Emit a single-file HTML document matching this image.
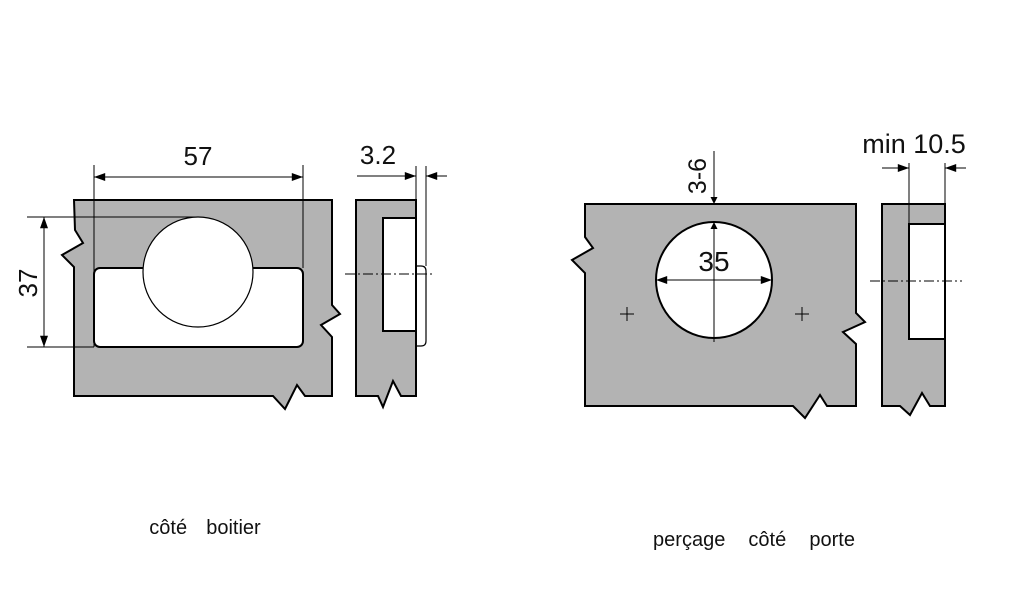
<!DOCTYPE html>
<html><head><meta charset="utf-8"><style>
html,body{margin:0;padding:0;background:#fff;}
svg{display:block;}
text{font-family:"Liberation Sans",Arial,sans-serif;fill:#111;}
</style></head><body>
<svg width="1014" height="600" viewBox="0 0 1014 600" xmlns="http://www.w3.org/2000/svg">
<defs>
<marker id="a" viewBox="0 0 10 10" refX="10" refY="5" markerWidth="12" markerHeight="7" orient="auto-start-reverse" markerUnits="userSpaceOnUse"><path d="M0,0 L10,5 L0,10 z" fill="#000"/></marker>
<marker id="b" viewBox="0 0 14 10" refX="14" refY="5" markerWidth="15" markerHeight="8" orient="auto-start-reverse" markerUnits="userSpaceOnUse"><path d="M0,0 L14,5 L0,10 z" fill="#000"/></marker>
</defs>
<g stroke="#000" stroke-width="2" stroke-linejoin="miter">
<path d="M74,200 L332,200 L332,305 L340,314 L321,325 L332,337 L332,396 L305,396 L297,385 L285,409 L273,396 L74,396 L74,267 L62,255 L83,243 L75,230 L74,200 Z" fill="#b3b3b3"/>
<rect x="94" y="268" width="209" height="79" rx="6" fill="#fff"/>
<circle cx="198" cy="272" r="55" fill="#fff" stroke-width="1.2"/>
<path d="M148,268 L248,268" stroke="#fff" stroke-width="3"/>
<path d="M356,200 L416,200 L416,396 L401,396 L393,381 L383,407 L378,396 L356,396 Z" fill="#b3b3b3"/>
<rect x="383" y="218" width="33" height="113" fill="#fff"/>
<path d="M416,266 L421,266 Q426,266 426,271 L426,341 Q426,346 421,346 L416,346" fill="none" stroke-width="1.2"/>
<path d="M585,204 L856,204 L856,313 L865,322 L843,332 L856,344 L856,406 L827,406 L820,395 L805,418 L793,406 L585,406 L585,273 L572,260 L593,248 L585,237 Z" fill="#b3b3b3"/>
<circle cx="714" cy="280" r="58" fill="#fff"/>
<path d="M882,204 L945,204 L945,406 L930,406 L922,393 L910,415 L900,406 L882,406 Z" fill="#b3b3b3"/>
<rect x="909" y="224" width="36" height="115" fill="#fff"/>
</g>
<g stroke="#000" stroke-width="1" fill="none">
<line x1="94" y1="165" x2="94" y2="347"/>
<line x1="303" y1="165" x2="303" y2="268"/>
<line x1="94" y1="177" x2="303" y2="177" marker-start="url(#b)" marker-end="url(#b)"/>
<line x1="27" y1="217" x2="198" y2="217"/>
<line x1="27" y1="347" x2="94" y2="347"/>
<line x1="44" y1="217" x2="44" y2="347" marker-start="url(#b)" marker-end="url(#b)"/>
<line x1="416" y1="166" x2="416" y2="200"/>
<line x1="426" y1="166" x2="426" y2="266"/>
<line x1="357" y1="176" x2="416" y2="176" marker-end="url(#b)"/>
<line x1="447" y1="176" x2="426" y2="176" marker-end="url(#b)"/>
<line x1="345" y1="274" x2="433" y2="274" stroke-dasharray="10,3,2,3"/>
<line x1="714" y1="151" x2="714" y2="204" marker-end="url(#a)"/>
<line x1="714" y1="240" x2="714" y2="222" marker-end="url(#a)"/>
<line x1="714" y1="240" x2="714" y2="342"/>
<line x1="656" y1="280" x2="772" y2="280" marker-start="url(#b)" marker-end="url(#b)"/>
<line x1="620" y1="314" x2="634" y2="314"/><line x1="627" y1="307" x2="627" y2="321"/>
<line x1="795" y1="314" x2="809" y2="314"/><line x1="802" y1="307" x2="802" y2="321"/>
<line x1="909" y1="163" x2="909" y2="224"/>
<line x1="945" y1="163" x2="945" y2="204"/>
<line x1="882" y1="168" x2="909" y2="168" marker-end="url(#b)"/>
<line x1="966" y1="168" x2="945" y2="168" marker-end="url(#b)"/>
<line x1="870" y1="281" x2="962" y2="281" stroke-dasharray="10,3,2,3"/>
</g>
<text x="198" y="165" font-size="26" text-anchor="middle">57</text>
<text x="0" y="0" font-size="26" text-anchor="middle" transform="translate(37,283) rotate(-90)">37</text>
<text x="378" y="164" font-size="26" text-anchor="middle">3.2</text>
<text x="0" y="0" font-size="25" text-anchor="middle" transform="translate(706,176) rotate(-90)">3-6</text>
<text x="714" y="271" font-size="28" text-anchor="middle">35</text>
<text x="914" y="153" font-size="27" text-anchor="middle">min 10.5</text>
<text x="205" y="534" font-size="20" text-anchor="middle" word-spacing="4" xml:space="preserve">côté  boitier</text>
<text x="754" y="546" font-size="20" text-anchor="middle" word-spacing="6" xml:space="preserve">perçage  côté  porte</text>
</svg>
</body></html>
